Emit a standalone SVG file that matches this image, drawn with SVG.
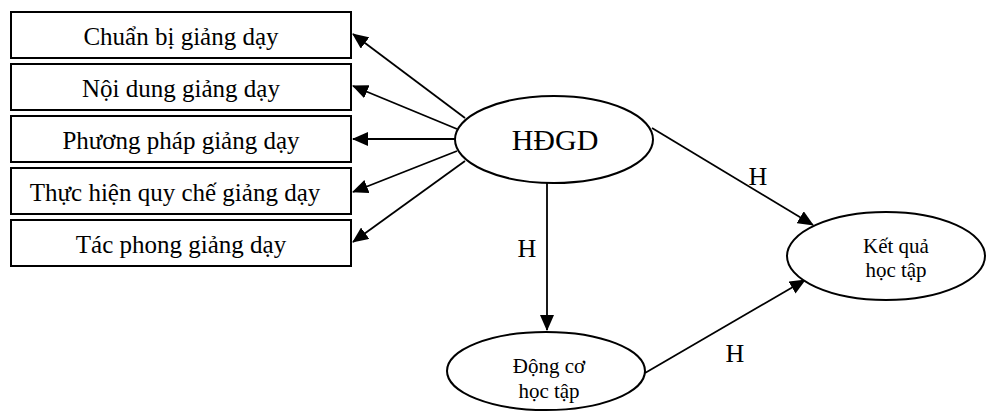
<svg xmlns="http://www.w3.org/2000/svg" width="987" height="413" viewBox="0 0 987 413">
<style>
.box{fill:#fff;stroke:#000;stroke-width:2}
.ell{fill:#fff;stroke:#000;stroke-width:2}
.t{font-family:"Liberation Serif","Times New Roman",serif;fill:#000;text-anchor:middle}
.lab{font-size:25px}
.h{font-size:26px}
.sm{font-size:21px}
.edge{stroke:#000;stroke-width:1.8;fill:none;marker-end:url(#ah)}
</style>
<defs>
<marker id="ah" markerUnits="userSpaceOnUse" markerWidth="16" markerHeight="14" viewBox="0 0 16 14" refX="15" refY="7" orient="auto">
<path d="M0,0 L16,7 L0,14 Z" fill="#000"/>
</marker>
</defs>
<rect width="987" height="413" fill="#fff"/>
<g id="connectors">
<line class="edge" x1="465" y1="118" x2="353" y2="34"/>
<line class="edge" x1="457" y1="129" x2="353" y2="86"/>
<line class="edge" x1="455" y1="139" x2="353" y2="139"/>
<line class="edge" x1="457" y1="151" x2="353" y2="192"/>
<line class="edge" x1="465" y1="161" x2="353" y2="242"/>
<line class="edge" x1="547" y1="183" x2="547" y2="330"/>
<line class="edge" x1="652" y1="128" x2="813" y2="225"/>
<line class="edge" x1="645" y1="373" x2="805" y2="280"/>
<text class="t h" x="527" y="257">H</text>
<text class="t h" x="758" y="185">H</text>
<text class="t h" x="735" y="362">H</text>
</g>
<g id="n1"><rect class="box" x="11" y="12" width="340" height="46"/><text class="t lab" x="181" y="45">Chuẩn bị giảng dạy</text></g>
<g id="n2"><rect class="box" x="11" y="64" width="340" height="46"/><text class="t lab" x="181" y="97">Nội dung giảng dạy</text></g>
<g id="n3"><rect class="box" x="11" y="116" width="340" height="46"/><text class="t lab" x="181" y="149">Phương pháp giảng dạy</text></g>
<g id="n4"><rect class="box" x="11" y="168" width="340" height="46"/><text class="t lab" x="175" y="201">Thực hiện quy chế giảng dạy</text></g>
<g id="n5"><rect class="box" x="11" y="220" width="340" height="46"/><text class="t lab" x="181" y="253">Tác phong giảng dạy</text></g>
<g id="hdgd"><ellipse class="ell" cx="554" cy="139.5" rx="99" ry="43.5"/><text class="t" style="font-size:30px" x="555" y="150">HĐGD</text></g>
<g id="dongco"><ellipse class="ell" cx="546" cy="371" rx="99" ry="39"/><text class="t sm" x="549" y="373">Động cơ</text><text class="t sm" x="549" y="398">học tập</text></g>
<g id="ketqua"><ellipse class="ell" cx="886" cy="256" rx="99" ry="44"/><text class="t sm" x="896" y="253">Kết quả</text><text class="t sm" x="896" y="277">học tập</text></g>
</svg>
